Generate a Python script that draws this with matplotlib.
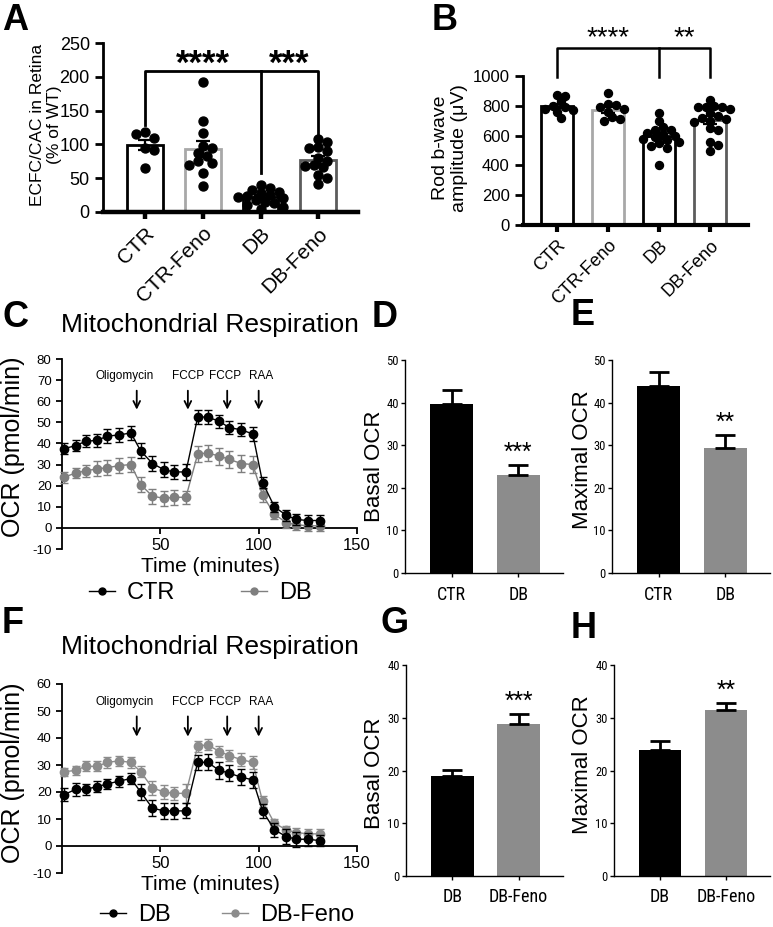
import matplotlib
matplotlib.use('Agg')
import matplotlib.pyplot as plt
import numpy as np
from matplotlib import font_manager
from matplotlib.font_manager import FontProperties
from matplotlib.lines import Line2D

# ---------------- data ----------------
groups = ['CTR', 'CTR-Feno', 'DB', 'DB-Feno']

# A: ECFC/CAC in retina (% of WT)
ecfc_ctr = [118, 110, 115, 95, 92, 65]
ecfc_ctr_feno = [193, 135, 117, 97, 95, 88, 83, 75, 73, 70, 58, 38]
ecfc_db = [40, 36, 33, 30, 28, 25, 24, 22, 20, 18, 15, 13, 10, 8, 5]
ecfc_db_feno = [108, 104, 96, 95, 90, 80, 75, 70, 68, 66, 55, 50, 42]

# B: rod b-wave amplitude (uV)
rod_ctr = [870, 865, 830, 800, 790, 780, 775, 760, 720]
rod_ctr_feno = [885, 810, 805, 790, 780, 760, 725, 700, 710]
rod_db = [750, 700, 660, 640, 640, 620, 610, 600, 590, 580, 570, 560, 550, 530, 520, 400]
rod_db_feno = [840, 800, 790, 790, 790, 780, 750, 730, 720, 710, 700, 690, 650, 640, 560, 540, 500]

# C / F: Seahorse OCR traces
time_min = [1, 7, 12, 18, 23, 29, 35, 40, 46, 52, 57, 63, 69, 74, 80, 85, 91, 97, 102, 108, 114, 119, 125, 131]
c_ctr = [37.5, 39, 41, 41.5, 43.5, 44, 45, 36.5, 30.5, 27.5, 26.5, 26.5, 52.5, 52.5, 50.5, 47.5, 46.5, 44.5, 21.5, 10, 6, 4, 3.5, 3.5]
c_ctr_err = [2.5, 2.5, 2.8, 3, 3.2, 3.3, 3.5, 3.5, 3.5, 3.5, 3.5, 3.8, 3.2, 3.2, 3.2, 3.2, 3.2, 3.2, 2.5, 2.5, 2.5, 2.5, 2.5, 2.8]
c_db = [24, 26, 27, 28, 28.5, 29.5, 30, 20.5, 15, 14, 14.5, 14.5, 35, 35.5, 34, 32.5, 30.5, 30, 15.5, 6.5, 2.5, 1.5, 1, 1]
c_db_err = [2.5, 2.5, 2.8, 3.5, 3.5, 3.5, 3.5, 3.5, 3.5, 3.5, 3.5, 3, 4, 4, 4, 4, 4, 4, 3, 2.5, 2.5, 2.5, 2.5, 2.5]

f_db = [19, 21, 21, 22, 23, 24, 25, 20, 14, 13, 13, 13, 31, 31, 28, 27, 25.5, 24.5, 13, 6, 3.5, 2.5, 2.5, 2]
f_db_err = [2.5, 2.5, 2, 2, 2, 2, 2, 2.8, 3, 3, 3, 2.8, 2.8, 3, 3, 3, 3, 3, 2.5, 2.5, 2.8, 2.8, 2.5, 2]
f_db_feno = [27.5, 28, 29.5, 29.5, 31, 31.5, 31, 27.5, 21.5, 20, 19.5, 19.5, 37, 37.5, 35, 33.5, 32, 31, 16.5, 8.5, 6, 5, 4.5, 4.5]
f_db_feno_err = [1.5, 1.8, 1.8, 1.8, 2, 2, 2, 2, 2.5, 2.5, 2.5, 3.5, 2, 2, 2, 2, 2.5, 2.5, 2, 1.5, 1.5, 1.5, 1.8, 1.8]

inject_names = ['Oligomycin', 'FCCP', 'FCCP', 'RAA']
inject_times = [38, 64, 84, 100]

# D/E/G/H: summary bars (mean, SEM)
de_groups = ['CTR', 'DB']
basal_de = [39.6, 23.0]
basal_de_err = [3.4, 2.3]
maximal_de = [44.0, 29.3]
maximal_de_err = [3.3, 3.1]
gh_groups = ['DB', 'DB-Feno']
basal_gh = [18.9, 28.8]
basal_gh_err = [1.2, 1.9]
maximal_gh = [23.8, 31.5]
maximal_gh_err = [1.7, 1.3]

# ---------------- style ----------------
W, H = 773, 927
plt.rcParams['font.family'] = ['Liberation Sans', 'DejaVu Sans']

# condensed font for the small Prism panels, if one is installed
narrow_path = None
for key in ['Liberation Sans Narrow', 'Roboto Condensed', 'DejaVu Sans Condensed', 'Open Sans Condensed']:
    for f in font_manager.fontManager.ttflist:
        if f.name == key and f.weight in (400, 'normal', 'regular') and f.style == 'normal':
            narrow_path = f.fname
            break
    if narrow_path:
        break
if narrow_path is None:
    for f in font_manager.fontManager.ttflist:
        if f.stretch == 'condensed' and f.style == 'normal' and f.weight in (400, 'normal', 'regular'):
            narrow_path = f.fname
            break


def narrow(size):
    if narrow_path:
        return FontProperties(fname=narrow_path, size=size)
    return FontProperties(family='Liberation Sans', size=size * 0.88)


fig = plt.figure(figsize=(W / 100, H / 100), dpi=100)


def px_axes(l, t, r, b):
    return fig.add_axes([l / W, 1 - b / H, (r - l) / W, (b - t) / H])


def ftxt(x, y, s, **kw):
    fig.text(x / W, 1 - y / H, s, **kw)


def swarm(ax, xc, vals, d_px):
    tr = ax.transData
    ppx = tr.transform((xc + 1, 0))[0] - tr.transform((xc, 0))[0]
    placed, xs = [], []
    for v in vals:
        yp = tr.transform((xc, v))[1]
        k, off = 0, 0.0
        while True:
            ok = False
            for sgn in ([0] if k == 0 else [1, -1]):
                off = sgn * k * d_px * 0.5
                if all((off - a) ** 2 + (yp - b) ** 2 >= (0.8 * d_px) ** 2 for a, b in placed):
                    ok = True
                    break
            if ok:
                break
            k += 1
        placed.append((off, yp))
        xs.append(xc + off / ppx)
    return xs


def dot_panel(ax, data, edges, ylim, yticks, dot_px, lw_left, lw_bottom, xlim):
    ax.set_xlim(*xlim)
    ax.set_ylim(*ylim)
    for sp in ['top', 'right']:
        ax.spines[sp].set_visible(False)
    ax.spines['left'].set_linewidth(lw_left)
    ax.spines['bottom'].set_linewidth(lw_bottom)
    for i, vals in enumerate(data):
        m = np.mean(vals)
        sem = np.std(vals, ddof=1) / np.sqrt(len(vals))
        ax.bar(i, m, width=0.62, color='white', edgecolor=edges[i], linewidth=2.0, zorder=2)
        xs = swarm(ax, i, vals, dot_px)
        ax.scatter(xs, vals, s=(dot_px * 0.72) ** 2, color='black', zorder=3, clip_on=False)
        ax.errorbar(i, m, yerr=sem, color='black', capsize=5, elinewidth=1.6, capthick=1.6, zorder=4)
    ax.set_yticks(yticks)
    ax.set_xticks(range(len(groups)))
    ax.tick_params(axis='y', width=lw_left, length=6)
    ax.tick_params(axis='x', width=lw_bottom, length=5)


edges = ['black', '#a8a8a8', 'black', '#5c5c5c']

# ---------------- A ----------------
axA = px_axes(103, 43, 358, 212)
dot_panel(axA, [ecfc_ctr, ecfc_ctr_feno, ecfc_db, ecfc_db_feno], edges, (0, 250), range(0, 251, 50),
          9, 2.0, 3.2, (-0.73, 3.69))
axA.set_yticklabels([str(v) for v in range(0, 251, 50)], fontsize=13)
axA.set_xticklabels(groups, rotation=45, ha='right', rotation_mode='anchor', fontsize=15)
bk = 208
axA.plot([0, 0, 3, 3], [128, bk, bk, 108], color='black', lw=2.0, clip_on=False)
axA.plot([2, 2], [57, bk], color='black', lw=2.0, clip_on=False)
axA.text(1.0, 204, '****', ha='center', va='baseline', fontsize=25, fontweight='bold')
axA.text(2.5, 204, '***', ha='center', va='baseline', fontsize=25, fontweight='bold')
ftxt(46, 125, 'ECFC/CAC in Retina\n(% of WT)', rotation=90, ha='center', va='center', fontsize=12.5, linespacing=1.1)

# ---------------- B ----------------
axB = px_axes(523, 76, 748, 225)
dot_panel(axB, [rod_ctr, rod_ctr_feno, rod_db, rod_db_feno], edges, (0, 1000), range(0, 1001, 200),
          8, 2.0, 3.0, (-0.67, 3.75))
axB.set_yticklabels([str(v) for v in range(0, 1001, 200)], fontsize=12)
axB.set_xticklabels(groups, rotation=45, ha='right', rotation_mode='anchor', fontsize=13)
bk = 1190
axB.plot([0, 0, 3, 3], [990, bk, bk, 990], color='black', lw=1.8, clip_on=False)
axB.plot([2, 2], [990, bk], color='black', lw=1.8, clip_on=False)
axB.text(1.0, 1210, '****', ha='center', va='baseline', fontsize=20)
axB.text(2.5, 1210, '**', ha='center', va='baseline', fontsize=20)
ftxt(450, 148, 'Rod b-wave\namplitude (\u03bcV)', rotation=90, ha='center', va='center', fontsize=14, linespacing=1.1)


# ---------------- C / F ----------------
def ocr_panel(ax, s1, e1, s2, e2, ylim, yticks, arrow_top, arrow_bot, label_y, gray2):
    ax.set_xlim(0, 150)
    ax.set_ylim(*ylim)
    for sp in ['top', 'right']:
        ax.spines[sp].set_visible(False)
    ax.spines['bottom'].set_position(('data', 0))
    ax.spines['left'].set_linewidth(1.3)
    ax.spines['bottom'].set_linewidth(1.3)
    ax.errorbar(time_min, s2, yerr=e2, fmt='-o', color=gray2, ms=6, lw=1.0,
                capsize=3, elinewidth=1.0, capthick=1.0, clip_on=False, zorder=3)
    ax.errorbar(time_min, s1, yerr=e1, fmt='-o', color='black', ms=6, lw=1.0,
                capsize=3, elinewidth=1.0, capthick=1.0, clip_on=False, zorder=4)
    ax.set_xticks([50, 100, 150])
    ax.set_xticklabels(['50', '100', '150'], fontsize=12)
    ax.set_yticks(yticks)
    ax.set_yticklabels([str(v) for v in yticks], fontsize=9.5)
    ax.tick_params(width=1.3, length=4)
    shift = [-6, 0, -1, 1]
    for name, t, s in zip(inject_names, inject_times, shift):
        ax.text(t + s, label_y, name, ha='center', va='center', fontsize=8.5)
        ax.annotate('', xy=(t, arrow_bot), xytext=(t, arrow_top),
                    arrowprops=dict(arrowstyle='->', lw=1.3, color='black',
                                    mutation_scale=12, shrinkA=0, shrinkB=0))
    h1 = Line2D([], [], color='black', marker='o', ms=5, lw=1.0)
    h2 = Line2D([], [], color=gray2, marker='o', ms=5, lw=1.0)
    return h1, h2


axC = px_axes(62, 359, 357, 549)
hC = ocr_panel(axC, c_ctr, c_ctr_err, c_db, c_db_err, (-10, 80), range(-10, 81, 10),
               65, 56, 72, '#7f7f7f')
ftxt(210, 325, 'Mitochondrial Respiration', ha='center', va='center', fontsize=19)
ftxt(13, 447, 'OCR (pmol/min)', rotation=90, ha='center', va='center', fontsize=18)
ftxt(210, 567, 'Time (minutes)', ha='center', va='center', fontsize=15)
axC.legend(hC, ['CTR', 'DB'], loc='center', bbox_to_anchor=(200 / W, 1 - 593 / H),
           bbox_transform=fig.transFigure, ncol=2, frameon=False, fontsize=17,
           handlelength=1.1, handletextpad=0.5, columnspacing=2.8)

axF = px_axes(62, 684, 357, 873)
hF = ocr_panel(axF, f_db, f_db_err, f_db_feno, f_db_feno_err, (-10, 60), range(-10, 61, 10),
               48, 40.5, 53.5, '#8c8c8c')
ftxt(210, 647, 'Mitochondrial Respiration', ha='center', va='center', fontsize=19)
ftxt(13, 773, 'OCR (pmol/min)', rotation=90, ha='center', va='center', fontsize=18)
ftxt(210, 885, 'Time (minutes)', ha='center', va='center', fontsize=15)
axF.legend(hF, ['DB', 'DB-Feno'], loc='center', bbox_to_anchor=(227 / W, 1 - 915 / H),
           bbox_transform=fig.transFigure, ncol=2, frameon=False, fontsize=17,
           handlelength=1.1, handletextpad=0.5, columnspacing=2.2)


# ---------------- D / E / G / H ----------------
def summary_panel(ax, labels, vals, errs, ymax, stars):
    ax.set_xlim(-0.7, 1.67)
    ax.set_ylim(0, ymax)
    for sp in ['top', 'right']:
        ax.spines[sp].set_visible(False)
    ax.spines['left'].set_linewidth(1.0)
    ax.spines['bottom'].set_linewidth(1.0)
    ax.bar([0, 1], vals, width=0.65, color=['black', '#8c8c8c'], zorder=2)
    for i in range(2):
        ax.errorbar(i, vals[i], yerr=[[0], [errs[i]]], color='black', capsize=7,
                    elinewidth=2.0, capthick=2.0, zorder=3)
    ax.text(1, vals[1] + errs[1] + ymax * 0.012, stars, ha='center', va='bottom',
            fontproperties=narrow(16))
    ax.set_xticks([0, 1])
    ax.set_xticklabels(labels, fontproperties=narrow(13))
    yt = list(range(0, ymax + 1, 10))
    ax.set_yticks(yt)
    ax.set_yticklabels([str(v) for v in yt], fontproperties=narrow(9))
    ax.tick_params(width=1.0, length=3, pad=1.5)
    ax.tick_params(axis='x', pad=6)


axD = px_axes(405, 360, 563, 573)
summary_panel(axD, de_groups, basal_de, basal_de_err, 50, '***')
ftxt(375, 466, 'Basal OCR', rotation=90, ha='center', va='center', fontsize=16)
axE = px_axes(612, 360, 770, 573)
summary_panel(axE, de_groups, maximal_de, maximal_de_err, 50, '**')
ftxt(582, 460, 'Maximal OCR', rotation=90, ha='center', va='center', fontsize=16)
axG = px_axes(406, 665, 563, 876)
summary_panel(axG, gh_groups, basal_gh, basal_gh_err, 40, '***')
ftxt(375, 773, 'Basal OCR', rotation=90, ha='center', va='center', fontsize=16)
axH = px_axes(614, 665, 770, 876)
summary_panel(axH, gh_groups, maximal_gh, maximal_gh_err, 40, '**')
ftxt(583, 765, 'Maximal OCR', rotation=90, ha='center', va='center', fontsize=16)

# panel letters
for letter, x, y in [('A', 2, 3), ('B', 432, 3), ('C', 2, 300), ('D', 372, 300), ('E', 571, 298),
                     ('F', 2, 606), ('G', 380, 606), ('H', 571, 611)]:
    ftxt(x, y, letter, fontsize=26, fontweight='bold', ha='left', va='top')

fig.savefig('out.png', dpi=100)
